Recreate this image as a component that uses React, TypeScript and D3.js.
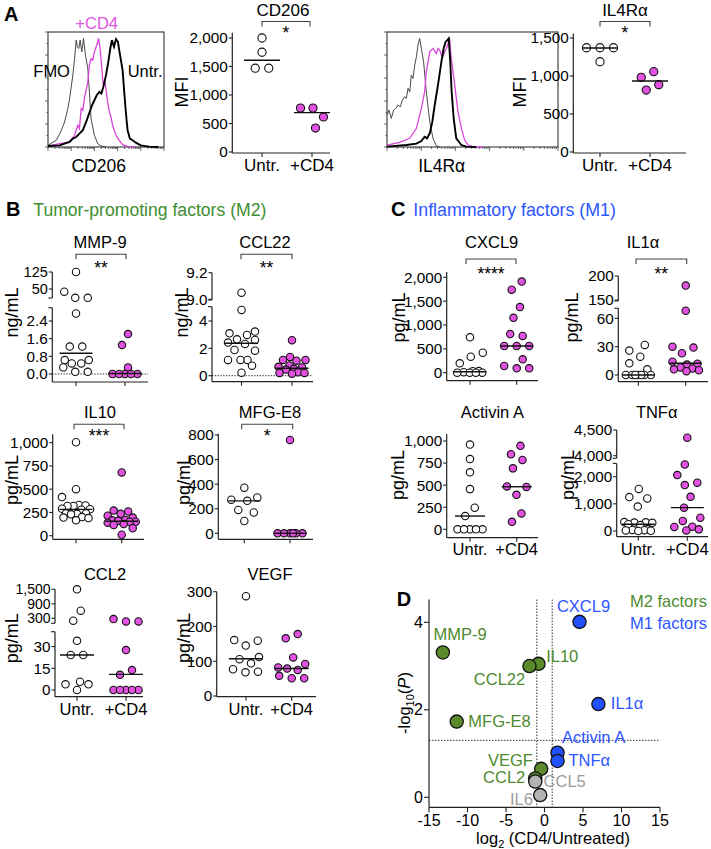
import React from "react";
import * as d3 from "d3";

const FONT = "'Liberation Sans', Arial, Helvetica, sans-serif";
const MAGENTA = "#e152e1";
const HIST_MAGENTA = "#d844d8";
const GREEN_TEXT = "#3e8e30";
const D_GREEN = "#5b8a2c";
const D_GREEN_TEXT = "#4d8a2e";
const BLUE = "#2150ff";
const BLUE_TEXT = "#2d55ff";
const GREY = "#b3b3b3";
const GREY_TEXT = "#9c9c9c";
const AXIS = "#222";

const groups = ["Untr.", "+CD4"];

// ---------- Panel A: flow histograms, [channel 0-100, % of max] ----------
const cd206Fmo: [number, number][] = [
  [0, 1.5], [7.1, 6.2], [11, 14], [14.3, 23], [15.7, 29.2], [17.1, 35.4], [18.6, 44.6], [20, 55.4],
  [21.4, 66], [22.9, 81.5], [24.3, 98.5], [25.4, 92], [26.6, 90.8], [27.7, 98.5], [29.1, 87.7],
  [30.6, 100], [32.3, 84.6], [34.3, 72.3], [35.7, 50.8], [37.1, 26.2], [40, 10.8], [42.9, 3.1],
  [45.7, 0.9], [50, 0],
];
const cd206Cd4: [number, number][] = [
  [0, 0.9], [10, 3.1], [18.6, 4.6], [22.9, 10.8], [25.7, 20], [27.1, 16.9], [28.6, 35.4], [30, 33.8],
  [31.4, 44.6], [34.3, 60], [35.7, 75.4], [37.1, 81.5], [38.6, 80], [40, 87.7], [42, 93.8], [43.7, 100],
  [45.1, 89.2], [46.6, 69.2], [47.7, 56.9], [48.9, 61.5], [50, 53.8], [51.4, 41.5], [52.9, 32.3],
  [54.3, 27.7], [55.7, 20], [58.6, 10.8], [61.4, 6.2], [64.3, 2.2], [68.6, 0.6], [75, 0],
];
const cd206UntrHist: [number, number][] = [
  [0, 0.9], [10, 1.5], [18.6, 4.6], [21.4, 7.7], [24.3, 9.2], [27.1, 12.3], [30, 15.4], [32.9, 23.1],
  [35.7, 31.7], [38, 38.5], [40, 43.1], [42, 47.7], [44.3, 50.8], [46, 49.2], [47.7, 55.4], [50, 66.2],
  [52, 78.5], [53.7, 90.8], [55.1, 98.5], [56.9, 92.3], [58.6, 99.4], [60.3, 96.9], [61.4, 89.2],
  [63.1, 78.5], [64.3, 70.8], [65.7, 50.8], [67.1, 32.3], [68.6, 15.4], [70.6, 7.7], [72.9, 6.2],
  [75.7, 4], [80, 1.5], [87.1, 0.3], [95, 0],
];
const il4raFmo: [number, number][] = [
  [0, 29.4], [1.2, 34], [2.5, 26.4], [3.9, 34], [5.1, 35.6], [6.4, 38.7], [7.8, 37.1], [9, 43.3],
  [10.3, 46.3], [11.3, 44.8], [12.3, 54], [13.3, 50.9], [14.2, 66.3], [15.2, 63.2], [16.2, 75.5],
  [17.2, 83.1], [18.1, 93.9], [19.1, 100], [20.1, 90.8], [21.4, 78.5], [23, 50.9], [25, 23.3],
  [26.9, 8], [28.8, 1.2], [30.8, 0],
];
const il4raCd4: [number, number][] = [
  [0, 1.8], [7.4, 4.3], [13.3, 8], [17.2, 17.2], [20.1, 35.6], [22, 50.9], [23, 69.3], [24, 78.5],
  [25, 87.7], [25.9, 89.3], [26.9, 90.8], [27.9, 88.3], [28.8, 86.2], [29.8, 90.8], [30.8, 89.3],
  [31.8, 84.7], [32.7, 83.1], [33.7, 87.7], [34.7, 90.8], [35.7, 95.4], [36.6, 100], [37.6, 81.6],
  [39.6, 57.1], [41.5, 32.5], [43.5, 17.2], [45.4, 6.4], [47.4, 1.8], [50.3, 0.3], [56, 0],
];
const il4raUntrHist: [number, number][] = [
  [0, 0.3], [11.3, 1.8], [17.2, 3.1], [20.1, 5.5], [22, 9.5], [23.4, 8], [25, 12.6], [26.5, 23.3],
  [27.9, 38.7], [29.8, 57.1], [31.8, 78.5], [33.1, 90.8], [34.3, 96.9], [35.3, 98.5], [36.1, 100],
  [37, 78.5], [37.8, 50.9], [39, 26.4], [40.5, 8], [43.5, 1.8], [46.4, 0.3], [52, 0],
];

// ---------- Panel A: MFI ----------
const cd206Untr = [2000, 1750, 1470, 1470];
const cd206Cd4v = [770, 770, 615, 420];
const cd206Medians = [1610, 690];
const il4raUntr = [1372, 1372, 1372, 1188];
const il4raCd4v = [1057, 982, 885, 815];
const il4raMedians = [1368, 935];

// ---------- Panel B ----------
const mmp9Untr = [125, 38, 11, 11, 2.74, 1.24, 1.24, 0.63, 0.63, 0.48, 0.48, 0.3, 0.1, 0.1];
const mmp9Cd4 = [1.81, 1.31, 0.3, 0, 0, 0, 0, 0];
const mmp9Medians = [0.94, 0.02];
const ccl22Untr = [9.05, 4.81, 3.23, 3.1, 2.98, 2.66, 2.61, 2.42, 2.32, 1.88, 1.83, 1.15, 1.15, 1.15, 0.73, 0.22];
const ccl22Cd4 = [2.6, 1.37, 1.15, 1.15, 1.1, 0.75, 0.65, 0.6, 0.5, 0.45, 0.25, 0.2, 0.15, 0.2];
const ccl22Medians = [2.37, 0.55];
const il10Untr = [1005, 500, 415, 330, 325, 320, 320, 290, 285, 280, 240, 240, 235, 230, 200, 195, 190, 165];
const il10Cd4 = [680, 270, 260, 235, 215, 195, 170, 165, 160, 150, 150, 140, 125, 115, 80, 10];
const il10Medians = [283, 155];
const mfge8Untr = [371, 292, 274, 264, 190, 170, 100];
const mfge8Cd4 = [760, 0, 0, 0, 0, 0, 0];
const mfge8Medians = [264, 0];
const ccl2Untr = [1500, 614, 200, 34, 24.2, 24.2, 5.7, 3.9, 3.9, 0];
const ccl2Cd4 = [270, 170, 170, 27.6, 13.8, 10.5, 0, 0, 0, 0, 0];
const ccl2Medians = [24.2, 10.8];
const vegfUntr = [287, 161, 159, 145, 112, 106, 94, 77, 70, 68];
const vegfCd4 = [178, 166, 111, 92, 82, 79, 75, 58, 51, 51];
const vegfMedians = [107, 79];

// ---------- Panel C ----------
const cxcl9Untr = [742, 420, 336, 197, 35, 30, 10, 0, 0, 0, 0];
const cxcl9Cd4 = [1910, 1740, 1375, 1150, 810, 770, 560, 560, 560, 280, 140, 92, 92];
const cxcl9Medians = [20, 560];
const il1aUntr = [31.8, 25.8, 19.4, 12.4, 6, 0, 0, 0, 0, 0, 0, 0];
const il1aCd4 = [180, 68, 30, 29, 23, 14, 12, 11, 8, 7, 6, 5, 4];
const il1aMedians = [0, 12.4];
const activinUntr = [960, 795, 645, 455, 245, 150, 0, 0, 0, 0, 0];
const activinCd4 = [945, 850, 785, 690, 485, 480, 390, 180, 85];
const activinMedians = [150, 482];
const tnfUntr = [1550, 1250, 1200, 900, 330, 320, 310, 300, 250, 220, 60, 40, 30, 20, 10, 0];
const tnfCd4 = [4350, 2450, 2060, 1780, 1690, 1260, 860, 490, 370, 160, 150, 60, 20];
const tnfMedians = [250, 860];

// ---------- Panel D ----------
const volcanoNames = ["MMP-9", "IL10", "CCL22", "MFG-E8", "VEGF", "CCL2", "CXCL9", "IL1α", "Activin A", "TNFα", "CCL5", "IL6"];
const volcanoLog2FC = [-13.2, -0.78, -1.95, -11.4, -0.43, -1.2, 4.55, 7.0, 1.69, 1.69, -1.2, -0.56];
const volcanoNegLogP = [3.31, 3.05, 3.0, 1.73, 0.65, 0.43, 4.01, 2.13, 1.02, 0.83, 0.36, 0.05];
const volcanoClass = ["M2", "M2", "M2", "M2", "M2", "M2", "M1", "M1", "M1", "M1", "other", "other"];
const volcanoXTicks = [-15, -10, -5, 0, 5, 10, 15];
const volcanoYTicks = [0, 2, 4];

// label placement (layout)
const volcanoLabelLayout: { anchor: "start" | "end"; dx: number; dy: number }[] = [
  { anchor: "start", dx: -9.4, dy: -12.7 },
  { anchor: "start", dx: 7.7, dy: -2.3 },
  { anchor: "end", dx: -4.3, dy: 19 },
  { anchor: "start", dx: 11.6, dy: 5 },
  { anchor: "end", dx: -8.3, dy: -3 },
  { anchor: "end", dx: -10, dy: 4.4 },
  { anchor: "start", dx: -22.6, dy: -10 },
  { anchor: "start", dx: 12.4, dy: 5 },
  { anchor: "start", dx: 4.4, dy: -10 },
  { anchor: "start", dx: 11, dy: 5 },
  { anchor: "start", dx: 8.3, dy: 5 },
  { anchor: "end", dx: -7.3, dy: 10 },
];

// ---------- helpers ----------
type Seg = { domain: [number, number]; range: [number, number]; ticks: number[]; fmt: string; lineLo?: number; lineHi: number; tickSize?: number };
type DotCfg = {
  title: string; titleX: number; titleY: number; titleSize: number;
  ylabel: string; ylabelX: number; ylabelY: number;
  axisX: number; xAxisY: number; xEnd: number; centers: [number, number];
  segs: Seg[];
  bracket?: { x1: number; x2: number; y: number; stars: string; sy: number };
  xLabelY?: number; xLabelSize: number;
  series: number[][]; medians: number[];
  zeroLine?: boolean; r: number; dist: number; bound: number; halfW: number;
};

// GraphPad-like scatter: spread overlapping points sideways, compressing when out of room
function swarmOffsets(ys: number[], vals: number[], d: number, bound: number): number[] {
  const n = ys.length;
  const order = d3.range(n).sort((a, b) => vals[a] - vals[b] || a - b);
  const xs = new Array(n).fill(0);
  const placed: number[] = [];
  const cands: number[] = [0];
  for (let k = 1; k * 0.5 <= bound; k++) cands.push(k * 0.5, -k * 0.5);
  for (const i of order) {
    const near = placed.filter((j) => Math.abs(ys[j] - ys[i]) < d);
    let chosen: number | null = null;
    for (const c of cands) {
      if (near.every((j) => (xs[j] - c) ** 2 + (ys[j] - ys[i]) ** 2 >= d * d - 0.01)) {
        chosen = c;
        break;
      }
    }
    if (chosen === null) {
      let best = -1;
      for (const c of cands) {
        const m = d3.min(near, (j) => Math.hypot(xs[j] - c, ys[j] - ys[i])) as number;
        if (m > best + 1e-6) {
          best = m;
          chosen = c;
        }
      }
    }
    xs[i] = chosen as number;
    placed.push(i);
  }
  const comp = new Array(n).fill(-1);
  let nc = 0;
  for (let i = 0; i < n; i++) {
    if (comp[i] >= 0) continue;
    const stack = [i];
    comp[i] = nc;
    while (stack.length) {
      const a = stack.pop() as number;
      for (let b = 0; b < n; b++) {
        if (comp[b] < 0 && Math.hypot(xs[a] - xs[b], ys[a] - ys[b]) < d * 1.05) {
          comp[b] = nc;
          stack.push(b);
        }
      }
    }
    nc++;
  }
  for (let c = 0; c < nc; c++) {
    const mem = d3.range(n).filter((i) => comp[i] === c);
    const lo = d3.min(mem, (i) => xs[i]) as number;
    const hi = d3.max(mem, (i) => xs[i]) as number;
    const shift = -(lo + hi) / 2;
    if (Math.abs(shift) < 1e-6) continue;
    const trial = xs.slice();
    mem.forEach((i) => (trial[i] += shift));
    let ok = true;
    for (const a of mem)
      for (let b = 0; b < n; b++) {
        if (comp[b] === c) continue;
        const before = Math.hypot(xs[a] - xs[b], ys[a] - ys[b]);
        const after = Math.hypot(trial[a] - trial[b], ys[a] - ys[b]);
        if (after < Math.min(d, before) - 0.01) ok = false;
      }
    if (ok) mem.forEach((i) => (xs[i] = trial[i]));
  }
  return xs;
}

const fmtOf = (k: string) => (k === "comma" ? d3.format(",") : k === "1f" ? d3.format(".1f") : d3.format("d"));

function DotPlot({ c }: { c: DotCfg }) {
  const scales = c.segs.map((s) => d3.scaleLinear().domain(s.domain).range(s.range));
  const yOf = (v: number) => {
    for (let i = 0; i < c.segs.length; i++) {
      if (v <= c.segs[i].lineHi || i === c.segs.length - 1) return scales[i](v);
    }
    return 0;
  };
  const xs = d3.scalePoint<string>().domain(groups).range(c.centers);
  return (
    <g>
      <text x={c.titleX} y={c.titleY} textAnchor="middle" fontSize={c.titleSize}>{c.title}</text>
      <text transform={`translate(${c.ylabelX},${c.ylabelY}) rotate(-90)`} textAnchor="middle" dy="0.35em" fontSize={18}>
        {c.ylabel}
      </text>
      {c.bracket && (
        <g>
          <path
            d={`M${c.bracket.x1},${c.bracket.y + 5}V${c.bracket.y}H${c.bracket.x2}V${c.bracket.y + 5}`}
            fill="none" stroke="#444" strokeWidth={1.1}
          />
          <text x={(c.bracket.x1 + c.bracket.x2) / 2} y={c.bracket.sy} textAnchor="middle" fontSize={17.5}>
            {c.bracket.stars}
          </text>
        </g>
      )}
      {c.segs.map((s, i) => {
        const f = fmtOf(s.fmt);
        const yTop = scales[i](s.lineHi);
        const yBot = i === 0 ? c.xAxisY : scales[i](s.lineLo as number);
        return (
          <g key={i}>
            <line x1={c.axisX} x2={c.axisX} y1={yBot} y2={yTop} stroke={AXIS} strokeWidth={1.2} />
            {c.segs.length > 1 && i === 0 && (
              <line x1={c.axisX - 4} x2={c.axisX} y1={yTop} y2={yTop} stroke={AXIS} strokeWidth={1.1} />
            )}
            {i > 0 && <line x1={c.axisX - 4} x2={c.axisX} y1={yBot} y2={yBot} stroke={AXIS} strokeWidth={1.1} />}
            {s.ticks.map((t) => (
              <g key={t}>
                <line x1={c.axisX - 3.5} x2={c.axisX} y1={scales[i](t)} y2={scales[i](t)} stroke={AXIS} strokeWidth={1.1} />
                <text x={c.axisX - 4.5} y={scales[i](t)} dy="0.35em" textAnchor="end" fontSize={s.tickSize ?? 15.3}>
                  {f(t)}
                </text>
              </g>
            ))}
          </g>
        );
      })}
      <line x1={c.axisX} x2={c.xEnd} y1={c.xAxisY} y2={c.xAxisY} stroke={AXIS} strokeWidth={1.2} />
      {groups.map((g) => (
        <line key={g} x1={xs(g)} x2={xs(g)} y1={c.xAxisY} y2={c.xAxisY + 4} stroke={AXIS} strokeWidth={1.1} />
      ))}
      {c.xLabelY !== undefined &&
        groups.map((g) => (
          <text key={g} x={xs(g)} y={c.xLabelY} textAnchor="middle" fontSize={c.xLabelSize}>{g}</text>
        ))}
      {c.zeroLine && (
        <line x1={c.axisX} x2={c.xEnd} y1={yOf(0)} y2={yOf(0)} stroke="#333" strokeWidth={1} strokeDasharray="1.4,1.4" />
      )}
      {c.series.map((vals, gi) => {
        const ys = vals.map(yOf);
        const offs = swarmOffsets(ys, vals, c.dist, c.bound);
        const cx = xs(groups[gi]) as number;
        return (
          <g key={gi}>
            {vals.map((v, i) => (
              <circle key={i} cx={cx + offs[i]} cy={ys[i]} r={c.r}
                fill={gi === 0 ? "#fff" : MAGENTA} stroke="#111" strokeWidth={1.1} />
            ))}
            <line x1={cx - c.halfW} x2={cx + c.halfW} y1={yOf(c.medians[gi])} y2={yOf(c.medians[gi])}
              stroke="#111" strokeWidth={1.4} />
          </g>
        );
      })}
    </g>
  );
}

type HistCfg = { x0: number; x1: number; y0: number; y1: number; fmo: [number, number][]; cd4: [number, number][]; untr: [number, number][] };

function Histogram({ h }: { h: HistCfg }) {
  const x = d3.scaleLinear().domain([0, 100]).range([h.x0, h.x1]);
  const y = d3.scaleLinear().domain([0, 106]).range([h.y1, h.y0]);
  const line = d3.line<[number, number]>().x((d) => x(d[0])).y((d) => y(d[1]));
  const lx = d3.scaleLog().domain([1, 1e5]).range([h.x0, h.x1]);
  const logTicks: { v: number; major: boolean }[] = [];
  for (let k = 0; k < 5; k++) for (let m = 1; m < 10; m++) logTicks.push({ v: m * 10 ** k, major: m === 1 });
  logTicks.push({ v: 1e5, major: true });
  const leftTicks = d3.range(0, 101, 10);
  return (
    <g>
      <rect x={h.x0} y={h.y0} width={h.x1 - h.x0} height={h.y1 - h.y0} fill="none" stroke="#333" strokeWidth={1.1} />
      {logTicks.map((t, i) => (
        <line key={i} x1={lx(t.v)} x2={lx(t.v)} y1={h.y1} y2={h.y1 + (t.major ? 4 : 2)} stroke="#444" strokeWidth={0.8} />
      ))}
      {leftTicks.map((t) => {
        const yy = h.y1 - (t / 100) * (h.y1 - h.y0);
        return <line key={t} x1={h.x0 - (t % 20 === 0 ? 3 : 1.5)} x2={h.x0} y1={yy} y2={yy} stroke="#444" strokeWidth={0.8} />;
      })}
      <path d={line(h.fmo) as string} fill="none" stroke="#333" strokeWidth={0.9} />
      <path d={line(h.cd4) as string} fill="none" stroke={HIST_MAGENTA} strokeWidth={1.3} />
      <path d={line(h.untr) as string} fill="none" stroke="#000" strokeWidth={1.9} />
    </g>
  );
}

const histA1: HistCfg = { x0: 48, x1: 164, y0: 32, y1: 147, fmo: cd206Fmo, cd4: cd206Cd4, untr: cd206UntrHist };
const histA2: HistCfg = { x0: 387, x1: 558, y0: 32, y1: 147, fmo: il4raFmo, cd4: il4raCd4, untr: il4raUntrHist };

const dotPanels: DotCfg[] = [
  {
    title: "CD206", titleX: 283, titleY: 15.5, titleSize: 17, ylabel: "MFI", ylabelX: 182, ylabelY: 92,
    axisX: 232.3, xAxisY: 153, xEnd: 330, centers: [262, 312],
    segs: [{ domain: [0, 2000], range: [152, 38], ticks: [0, 500, 1000, 1500, 2000], fmt: "comma", lineHi: 2090 }],
    bracket: { x1: 262, x2: 310, y: 21.5, stars: "*", sy: 38.5 },
    xLabelY: 171, xLabelSize: 17, series: [cd206Untr, cd206Cd4v], medians: cd206Medians, r: 4.1, dist: 13.5, bound: 15, halfW: 18,
  },
  {
    title: "IL4Rα", titleX: 625, titleY: 15.5, titleSize: 17, ylabel: "MFI", ylabelX: 520, ylabelY: 92,
    axisX: 573.3, xAxisY: 153, xEnd: 686, centers: [600, 650],
    segs: [{ domain: [0, 1500], range: [152, 38], ticks: [0, 500, 1000, 1500], fmt: "comma", lineHi: 1560 }],
    bracket: { x1: 600, x2: 650, y: 21.5, stars: "*", sy: 38.5 },
    xLabelY: 171, xLabelSize: 17, series: [il4raUntr, il4raCd4v], medians: il4raMedians, r: 4.1, dist: 13.5, bound: 15, halfW: 18,
  },
  {
    title: "MMP-9", titleX: 100, titleY: 248, titleSize: 16.5, ylabel: "ng/mL", ylabelX: 12, ylabelY: 312.5,
    axisX: 52.3, xAxisY: 382, xEnd: 148, centers: [76, 125],
    segs: [
      { domain: [0, 2.4], range: [374, 321], ticks: [0, 0.8, 1.6, 2.4], fmt: "1f", lineHi: 3.0 },
      { domain: [50, 125], range: [289, 272], ticks: [50, 125], fmt: "d", lineLo: 10, lineHi: 125, tickSize: 14.5 },
    ],
    bracket: { x1: 76, x2: 126, y: 254.3, stars: "**", sy: 273.5 },
    xLabelSize: 16.5, series: [mmp9Untr, mmp9Cd4], medians: mmp9Medians, zeroLine: true, r: 3.7, dist: 12.5, bound: 13.5, halfW: 16.5,
  },
  {
    title: "CCL22", titleX: 265, titleY: 248, titleSize: 16.5, ylabel: "ng/mL", ylabelX: 182, ylabelY: 312.5,
    axisX: 212, xAxisY: 381.7, xEnd: 313, centers: [241.5, 292],
    segs: [
      { domain: [0, 4], range: [375.7, 321], ticks: [0, 2, 4], fmt: "d", lineHi: 5.05 },
      { domain: [9.0, 9.2], range: [299.3, 272.7], ticks: [9.0, 9.2], fmt: "1f", lineLo: 8.995, lineHi: 9.2 },
    ],
    bracket: { x1: 241, x2: 292, y: 254.3, stars: "**", sy: 273.5 },
    xLabelSize: 16.5, series: [ccl22Untr, ccl22Cd4], medians: ccl22Medians, zeroLine: true, r: 3.7, dist: 12.5, bound: 13.5, halfW: 16.5,
  },
  {
    title: "IL10", titleX: 100, titleY: 418, titleSize: 16.5, ylabel: "pg/mL", ylabelX: 12, ylabelY: 480,
    axisX: 52.7, xAxisY: 539.3, xEnd: 144, centers: [76, 121.7],
    segs: [{ domain: [0, 1000], range: [535.7, 442.7], ticks: [0, 250, 500, 750, 1000], fmt: "comma", lineHi: 1090 }],
    bracket: { x1: 74, x2: 124, y: 424.3, stars: "***", sy: 441.5 },
    xLabelSize: 16.5, series: [il10Untr, il10Cd4], medians: il10Medians, r: 3.7, dist: 12.5, bound: 14, halfW: 16.5,
  },
  {
    title: "MFG-E8", titleX: 270, titleY: 418, titleSize: 16.5, ylabel: "pg/mL", ylabelX: 183.3, ylabelY: 480,
    axisX: 218.3, xAxisY: 539.3, xEnd: 313, centers: [244.3, 290],
    segs: [{ domain: [0, 800], range: [533.3, 435], ticks: [0, 200, 400, 600, 800], fmt: "d", lineHi: 810 }],
    bracket: { x1: 241.7, x2: 292.7, y: 424.3, stars: "*", sy: 441.5 },
    xLabelSize: 16.5, series: [mfge8Untr, mfge8Cd4], medians: mfge8Medians, r: 3.7, dist: 12.5, bound: 13, halfW: 16,
  },
  {
    title: "CCL2", titleX: 105, titleY: 580, titleSize: 16.5, ylabel: "pg/mL", ylabelX: 11.7, ylabelY: 638.3,
    axisX: 55, xAxisY: 696.7, xEnd: 143, centers: [77, 126],
    segs: [
      { domain: [0, 30], range: [690, 646.6], ticks: [0, 15, 30], fmt: "d", lineHi: 40.3 },
      { domain: [300, 1500], range: [618.3, 589.3], ticks: [300, 900, 1500], fmt: "comma", lineLo: 93, lineHi: 1500, tickSize: 14 },
    ],
    xLabelY: 715, xLabelSize: 16.5, series: [ccl2Untr, ccl2Cd4], medians: ccl2Medians, r: 3.7, dist: 12.5, bound: 14, halfW: 17,
  },
  {
    title: "VEGF", titleX: 270, titleY: 580, titleSize: 16.5, ylabel: "pg/mL", ylabelX: 183.3, ylabelY: 638,
    axisX: 216.7, xAxisY: 696.7, xEnd: 316, centers: [246, 291.7],
    segs: [{ domain: [0, 300], range: [696, 591.7], ticks: [0, 100, 200, 300], fmt: "d", lineHi: 300 }],
    xLabelY: 715, xLabelSize: 16.5, series: [vegfUntr, vegfCd4], medians: vegfMedians, r: 3.7, dist: 12.5, bound: 13.5, halfW: 17,
  },
  {
    title: "CXCL9", titleX: 491.7, titleY: 248, titleSize: 16.5, ylabel: "pg/mL", ylabelX: 398.3, ylabelY: 317.5,
    axisX: 446.7, xAxisY: 380.7, xEnd: 538, centers: [470, 516.7],
    segs: [{ domain: [0, 2000], range: [372.7, 277.3], ticks: [0, 500, 1000, 1500, 2000], fmt: "comma", lineHi: 2110 }],
    bracket: { x1: 466, x2: 516, y: 259, stars: "****", sy: 279.5 },
    xLabelSize: 16.5, series: [cxcl9Untr, cxcl9Cd4], medians: cxcl9Medians, r: 3.7, dist: 12.5, bound: 14, halfW: 16.5,
  },
  {
    title: "IL1α", titleX: 643, titleY: 248, titleSize: 16.5, ylabel: "pg/mL", ylabelX: 571.7, ylabelY: 317.5,
    axisX: 618.3, xAxisY: 381.7, xEnd: 708, centers: [638.3, 685.7],
    segs: [
      { domain: [0, 60], range: [375, 318.3], ticks: [0, 30, 60], fmt: "d", lineHi: 70.6 },
      { domain: [150, 200], range: [300, 276], ticks: [150, 200], fmt: "d", lineLo: 148, lineHi: 200 },
    ],
    bracket: { x1: 636, x2: 686.7, y: 259, stars: "**", sy: 279.5 },
    xLabelSize: 16.5, series: [il1aUntr, il1aCd4], medians: il1aMedians, r: 3.7, dist: 12.5, bound: 14, halfW: 16,
  },
  {
    title: "Activin A", titleX: 492.3, titleY: 418, titleSize: 16.5, ylabel: "pg/mL", ylabelX: 397.5, ylabelY: 475,
    axisX: 446.7, xAxisY: 537.7, xEnd: 538, centers: [470, 516.7],
    segs: [{ domain: [0, 1000], range: [529.3, 441], ticks: [0, 250, 500, 750, 1000], fmt: "comma", lineHi: 1080 }],
    xLabelY: 555, xLabelSize: 16.5, series: [activinUntr, activinCd4], medians: activinMedians, r: 3.7, dist: 12.5, bound: 13.5, halfW: 15,
  },
  {
    title: "TNFα", titleX: 656.7, titleY: 418, titleSize: 16.5, ylabel: "pg/mL", ylabelX: 567.5, ylabelY: 475,
    axisX: 616.7, xAxisY: 536.7, xEnd: 708, centers: [638.3, 687.3],
    segs: [
      { domain: [0, 2000], range: [531, 476.7], ticks: [0, 1000, 2000], fmt: "comma", lineHi: 2490 },
      { domain: [4000, 4500], range: [455.7, 430], ticks: [4000, 4500], fmt: "comma", lineLo: 3950, lineHi: 4500 },
    ],
    xLabelY: 555, xLabelSize: 16.5, series: [tnfUntr, tnfCd4], medians: tnfMedians, r: 3.7, dist: 12.5, bound: 14, halfW: 16.5,
  },
];

function Volcano() {
  const x = d3.scaleLinear().domain([-15, 15]).range([429, 660]);
  const y = d3.scaleLinear().domain([0, 4]).range([797.3, 622.3]);
  const xAxisY = 807.3;
  const yTop = y(4.52);
  const fillOf = (k: string) => (k === "M1" ? BLUE : k === "M2" ? D_GREEN : GREY);
  const textOf = (k: string) => (k === "M1" ? BLUE_TEXT : k === "M2" ? D_GREEN_TEXT : GREY_TEXT);
  const idx = d3.range(volcanoNames.length);
  const drawOrder = [...idx.filter((i) => volcanoClass[i] === "M2"), ...idx.filter((i) => volcanoClass[i] === "M1"), ...idx.filter((i) => volcanoClass[i] === "other")];
  return (
    <g>
      <text x={396.7} y={606} fontSize={20} fontWeight="bold">D</text>
      <line x1={x(-1)} x2={x(-1)} y1={yTop} y2={xAxisY} stroke="#333" strokeWidth={1} strokeDasharray="1.5,1.5" />
      <line x1={x(1)} x2={x(1)} y1={yTop} y2={xAxisY} stroke="#333" strokeWidth={1} strokeDasharray="1.5,1.5" />
      <line x1={x(-15)} x2={x(15)} y1={y(-Math.log10(0.05))} y2={y(-Math.log10(0.05))} stroke="#333" strokeWidth={1} strokeDasharray="1.5,1.5" />
      <line x1={x(-15)} x2={x(-15)} y1={yTop} y2={xAxisY} stroke={AXIS} strokeWidth={1.2} />
      <line x1={x(-15)} x2={x(15)} y1={xAxisY} y2={xAxisY} stroke={AXIS} strokeWidth={1.2} />
      {volcanoXTicks.map((t) => (
        <g key={t}>
          <line x1={x(t)} x2={x(t)} y1={xAxisY} y2={xAxisY + 5} stroke={AXIS} strokeWidth={1.1} />
          <text x={x(t)} y={826} textAnchor="middle" fontSize={16}>{t}</text>
        </g>
      ))}
      {volcanoYTicks.map((t) => (
        <g key={t}>
          <line x1={x(-15) - 5} x2={x(-15)} y1={y(t)} y2={y(t)} stroke={AXIS} strokeWidth={1.1} />
          <text x={x(-15) - 6} y={y(t)} dy="0.35em" textAnchor="end" fontSize={16}>{t}</text>
        </g>
      ))}
      <text x={553} y={843.5} textAnchor="middle" fontSize={16.5}>
        log<tspan fontSize={11} dy={4}>2</tspan><tspan dy={-4}> (CD4/Untreated)</tspan>
      </text>
      <text transform={`translate(410,703) rotate(-90)`} textAnchor="middle" fontSize={16.5}>
        -log<tspan fontSize={11} dy={4}>10</tspan><tspan dy={-4}>(</tspan><tspan fontStyle="italic">P</tspan>)
      </text>
      <text x={707} y={607} textAnchor="end" fontSize={16.5} fill={D_GREEN_TEXT}>M2 factors</text>
      <text x={707} y={628.5} textAnchor="end" fontSize={16.5} fill={BLUE_TEXT}>M1 factors</text>
      {idx.map((i) => {
        const L = volcanoLabelLayout[i];
        return (
          <text key={i} x={x(volcanoLog2FC[i]) + L.dx} y={y(volcanoNegLogP[i]) + L.dy} textAnchor={L.anchor}
            fontSize={16.5} fill={textOf(volcanoClass[i])}>
            {volcanoNames[i]}
          </text>
        );
      })}
      {drawOrder.map((i) => (
        <circle key={i} cx={x(volcanoLog2FC[i])} cy={y(volcanoNegLogP[i])} r={6.6}
          fill={fillOf(volcanoClass[i])} stroke="#111" strokeWidth={1.3} />
      ))}
    </g>
  );
}

export default function App() {
  return (
    <svg
      width={711}
      height={849}
      viewBox="0 0 711 849"
      style={{ position: "absolute", left: 0, top: 0, background: "#fff" }}
      fontFamily={FONT}
    >
      <rect x={0} y={0} width={711} height={849} fill="#fff" />
      <text x={4} y={21} fontSize={20} fontWeight="bold">A</text>
      <Histogram h={histA1} />
      <text x={96.7} y={29} textAnchor="middle" fontSize={16.5} fill={MAGENTA}>+CD4</text>
      <text x={33.3} y={76.5} fontSize={16.5}>FMO</text>
      <text x={127.7} y={76.5} fontSize={16.5}>Untr.</text>
      <text x={98.7} y={171.5} textAnchor="middle" fontSize={17.5}>CD206</text>
      <Histogram h={histA2} />
      <text x={441.7} y={171.5} textAnchor="middle" fontSize={17.5}>IL4Rα</text>

      <text x={6} y={216} fontSize={20} fontWeight="bold">B</text>
      <text x={33.3} y={216} fontSize={17.6} fill={GREEN_TEXT}>Tumor-promoting factors (M2)</text>
      <text x={391} y={216} fontSize={20} fontWeight="bold">C</text>
      <text x={413.3} y={216} fontSize={17.8} fill={BLUE_TEXT}>Inflammatory factors (M1)</text>

      {dotPanels.map((c) => (
        <DotPlot key={c.title} c={c} />
      ))}
      <Volcano />
    </svg>
  );
}
